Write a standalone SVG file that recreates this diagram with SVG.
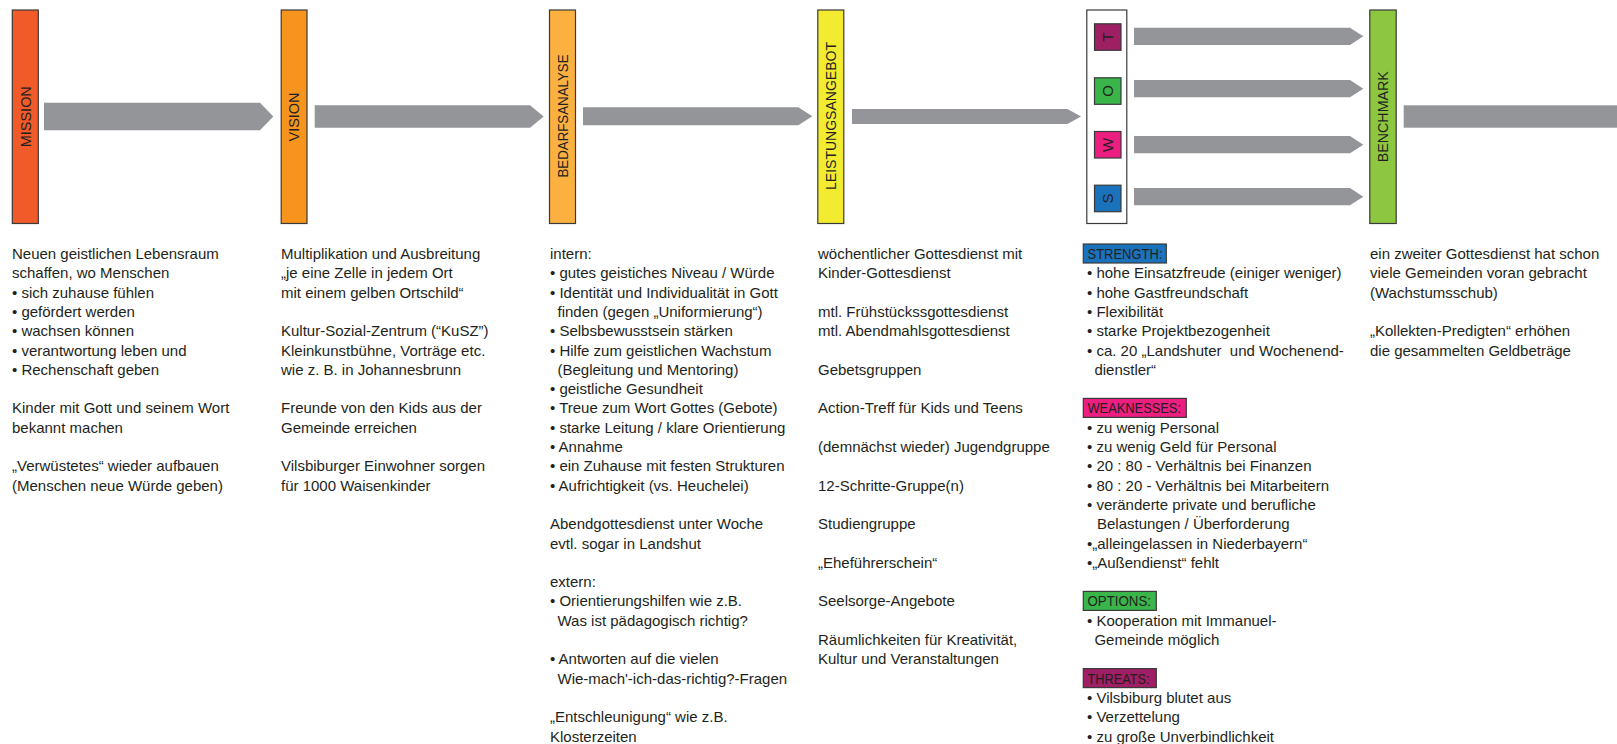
<svg xmlns="http://www.w3.org/2000/svg" width="1617" height="744" viewBox="0 0 1617 744">
<style>
.bar{stroke:#3a3a3a;stroke-width:1.2}
.arr{fill:#939598}
.lbl{font-family:"Liberation Sans",Arial,sans-serif;font-size:15px;fill:#231f20;text-anchor:middle}
.t{font-family:"Liberation Sans",Arial,sans-serif;font-size:15px;fill:#231f20}
.box{stroke:#3a3a3a;stroke-width:1.2}
</style>
<rect width="1617" height="744" fill="#ffffff"/>
<g id="connectors">
<polygon class="arr" points="44,102.7 260,102.7 273.3,116.5 260,130.3 44,130.3"/>
<polygon class="arr" points="314.7,105.3 530,105.3 543.7,116.5 530,127.7 314.7,127.7"/>
<polygon class="arr" points="583,107.3 798.3,107.3 812.3,116.3 798.3,125.3 583,125.3"/>
<polygon class="arr" points="852,109 1067.5,109 1081,116.5 1067.5,124 852,124"/>
<polygon class="arr" points="1134,27.7 1350,27.7 1363.3,36.35 1350,45 1134,45"/>
<polygon class="arr" points="1134,80 1350,80 1363.3,88.65 1350,97.3 1134,97.3"/>
<polygon class="arr" points="1134,136 1350,136 1363.3,144.65 1350,153.3 1134,153.3"/>
<polygon class="arr" points="1134,188 1350,188 1363.3,196.65 1350,205.3 1134,205.3"/>
<rect class="arr" x="1403.7" y="105.3" width="214" height="22.4"/>
</g>
<g id="mission">
<rect class="bar" x="12.3" y="10" width="26" height="213.5" fill="#f15a29"/>
<text class="lbl" transform="translate(30.7,116.7) rotate(-90)" textLength="61" lengthAdjust="spacingAndGlyphs">MISSION</text>
<text class="t">
<tspan x="12" y="259">Neuen geistlichen Lebensraum</tspan>
<tspan x="12" y="278.3">schaffen, wo Menschen</tspan>
<tspan x="12" y="297.6">• sich zuhause fühlen</tspan>
<tspan x="12" y="316.9">• gefördert werden</tspan>
<tspan x="12" y="336.2">• wachsen können</tspan>
<tspan x="12" y="355.5">• verantwortung leben und</tspan>
<tspan x="12" y="374.8">• Rechenschaft geben</tspan>
<tspan x="12" y="413.4">Kinder mit Gott und seinem Wort</tspan>
<tspan x="12" y="432.7">bekannt machen</tspan>
<tspan x="12" y="471.3">„Verwüstetes“ wieder aufbauen</tspan>
<tspan x="12" y="490.6">(Menschen neue Würde geben)</tspan>
</text>
</g>
<g id="vision">
<rect class="bar" x="281.2" y="10" width="25.8" height="213.5" fill="#f7941d"/>
<text class="lbl" transform="translate(299.4,117) rotate(-90)" textLength="49" lengthAdjust="spacingAndGlyphs">VISION</text>
<text class="t">
<tspan x="281" y="259">Multiplikation und Ausbreitung</tspan>
<tspan x="281" y="278.3">„je eine Zelle in jedem Ort</tspan>
<tspan x="281" y="297.6">mit einem gelben Ortschild“</tspan>
<tspan x="281" y="336.2">Kultur-Sozial-Zentrum (“KuSZ”)</tspan>
<tspan x="281" y="355.5">Kleinkunstbühne, Vorträge etc.</tspan>
<tspan x="281" y="374.8">wie z. B. in Johannesbrunn</tspan>
<tspan x="281" y="413.4">Freunde von den Kids aus der</tspan>
<tspan x="281" y="432.7">Gemeinde erreichen</tspan>
<tspan x="281" y="471.3">Vilsbiburger Einwohner sorgen</tspan>
<tspan x="281" y="490.6">für 1000 Waisenkinder</tspan>
</text>
</g>
<g id="bedarfsanalyse">
<rect class="bar" x="549.5" y="10" width="26" height="213.5" fill="#fbb040"/>
<text class="lbl" transform="translate(567.9,116) rotate(-90)" textLength="123" lengthAdjust="spacingAndGlyphs">BEDARFSANALYSE</text>
<text class="t">
<tspan x="550" y="259">intern:</tspan>
<tspan x="550" y="278.3">• gutes geistiches Niveau / Würde</tspan>
<tspan x="550" y="297.6">• Identität und Individualität in Gott</tspan>
<tspan x="557.5" y="316.9">finden (gegen „Uniformierung“)</tspan>
<tspan x="550" y="336.2">• Selbsbewusstsein stärken</tspan>
<tspan x="550" y="355.5">• Hilfe zum geistlichen Wachstum</tspan>
<tspan x="557.5" y="374.8">(Begleitung und Mentoring)</tspan>
<tspan x="550" y="394.1">• geistliche Gesundheit</tspan>
<tspan x="550" y="413.4">• Treue zum Wort Gottes (Gebote)</tspan>
<tspan x="550" y="432.7">• starke Leitung / klare Orientierung</tspan>
<tspan x="550" y="452">• Annahme</tspan>
<tspan x="550" y="471.3">• ein Zuhause mit festen Strukturen</tspan>
<tspan x="550" y="490.6">• Aufrichtigkeit (vs. Heuchelei)</tspan>
<tspan x="550" y="529.2">Abendgottesdienst unter Woche</tspan>
<tspan x="550" y="548.5">evtl. sogar in Landshut</tspan>
<tspan x="550" y="587.1">extern:</tspan>
<tspan x="550" y="606.4">• Orientierungshilfen wie z.B.</tspan>
<tspan x="557.5" y="625.7">Was ist pädagogisch richtig?</tspan>
<tspan x="550" y="664.3">• Antworten auf die vielen</tspan>
<tspan x="557.5" y="683.6">Wie-mach'-ich-das-richtig?-Fragen</tspan>
<tspan x="550" y="722.2">„Entschleunigung“ wie z.B.</tspan>
<tspan x="550" y="741.5">Klosterzeiten</tspan>
</text>
</g>
<g id="leistungsangebot">
<rect class="bar" x="817.8" y="10" width="26" height="213.5" fill="#f2eb30"/>
<text class="lbl" transform="translate(836.2,116) rotate(-90)" textLength="148" lengthAdjust="spacingAndGlyphs">LEISTUNGSANGEBOT</text>
<text class="t">
<tspan x="818" y="259">wöchentlicher Gottesdienst mit</tspan>
<tspan x="818" y="278.3">Kinder-Gottesdienst</tspan>
<tspan x="818" y="316.9">mtl. Frühstückssgottesdienst</tspan>
<tspan x="818" y="336.2">mtl. Abendmahlsgottesdienst</tspan>
<tspan x="818" y="374.8">Gebetsgruppen</tspan>
<tspan x="818" y="413.4">Action-Treff für Kids und Teens</tspan>
<tspan x="818" y="452">(demnächst wieder) Jugendgruppe</tspan>
<tspan x="818" y="490.6">12-Schritte-Gruppe(n)</tspan>
<tspan x="818" y="529.2">Studiengruppe</tspan>
<tspan x="818" y="567.8">„Eheführerschein“</tspan>
<tspan x="818" y="606.4">Seelsorge-Angebote</tspan>
<tspan x="818" y="645">Räumlichkeiten für Kreativität,</tspan>
<tspan x="818" y="664.3">Kultur und Veranstaltungen</tspan>
</text>
</g>
<g id="swot">
<rect class="bar" x="1086.8" y="10" width="40" height="213.5" fill="#ffffff"/>
<rect class="bar" x="1094.5" y="23.8" width="26.5" height="26.5" fill="#9e1f63"/>
<rect class="bar" x="1094.5" y="77.8" width="26.5" height="26.5" fill="#39b54a"/>
<rect class="bar" x="1094.5" y="131.5" width="26.5" height="26.5" fill="#ec1e7f"/>
<rect class="bar" x="1094.5" y="185.2" width="26.5" height="26.5" fill="#1b72bc"/>
<text class="lbl" transform="translate(1113.1,37) rotate(-90)">T</text>
<text class="lbl" transform="translate(1113.1,91) rotate(-90)">O</text>
<text class="lbl" transform="translate(1113.1,144.8) rotate(-90)">W</text>
<text class="lbl" transform="translate(1113.1,198.5) rotate(-90)">S</text>
<rect class="box" x="1083.3" y="244" width="83" height="19" fill="#1b72bc"/>
<text class="t" x="1087.5" y="259" textLength="75" lengthAdjust="spacingAndGlyphs">STRENGTH:</text>
<rect class="box" x="1083.3" y="398.4" width="103" height="19" fill="#ec1e7f"/>
<text class="t" x="1087.5" y="413.4" textLength="93.5" lengthAdjust="spacingAndGlyphs">WEAKNESSES:</text>
<rect class="box" x="1083.3" y="591.4" width="73" height="19" fill="#39b54a"/>
<text class="t" x="1087.5" y="606.4" textLength="63.5" lengthAdjust="spacingAndGlyphs">OPTIONS:</text>
<rect class="box" x="1083.3" y="668.6" width="73" height="19" fill="#9e1f63"/>
<text class="t" x="1087.5" y="683.6" textLength="62" lengthAdjust="spacingAndGlyphs">THREATS:</text>
<text class="t">
<tspan x="1087" y="278.3">• hohe Einsatzfreude (einiger weniger)</tspan>
<tspan x="1087" y="297.6">• hohe Gastfreundschaft</tspan>
<tspan x="1087" y="316.9">• Flexibilität</tspan>
<tspan x="1087" y="336.2">• starke Projektbezogenheit</tspan>
<tspan x="1087" y="355.5">• ca. 20 „Landshuter&#160; und Wochenend-</tspan>
<tspan x="1094.4" y="374.8">dienstler“</tspan>
<tspan x="1087" y="432.7">• zu wenig Personal</tspan>
<tspan x="1087" y="452">• zu wenig Geld für Personal</tspan>
<tspan x="1087" y="471.3">• 20 : 80 - Verhältnis bei Finanzen</tspan>
<tspan x="1087" y="490.6">• 80 : 20 - Verhältnis bei Mitarbeitern</tspan>
<tspan x="1087" y="509.9">• veränderte private und berufliche</tspan>
<tspan x="1097" y="529.2">Belastungen / Überforderung</tspan>
<tspan x="1087" y="548.5">•„alleingelassen in Niederbayern“</tspan>
<tspan x="1087" y="567.8">•„Außendienst“ fehlt</tspan>
<tspan x="1087" y="625.7">• Kooperation mit Immanuel-</tspan>
<tspan x="1094.4" y="645">Gemeinde möglich</tspan>
<tspan x="1087" y="702.9">• Vilsbiburg blutet aus</tspan>
<tspan x="1087" y="722.2">• Verzettelung</tspan>
<tspan x="1087" y="741.5">• zu große Unverbindlichkeit</tspan>
</text>
</g>
<g id="benchmark">
<rect class="bar" x="1369.8" y="10" width="26.4" height="213.5" fill="#8dc63f"/>
<text class="lbl" transform="translate(1388.4,116.7) rotate(-90)" textLength="91" lengthAdjust="spacingAndGlyphs">BENCHMARK</text>
<text class="t">
<tspan x="1370" y="259">ein zweiter Gottesdienst hat schon</tspan>
<tspan x="1370" y="278.3">viele Gemeinden voran gebracht</tspan>
<tspan x="1370" y="297.6">(Wachstumsschub)</tspan>
<tspan x="1370" y="336.2">„Kollekten-Predigten“ erhöhen</tspan>
<tspan x="1370" y="355.5">die gesammelten Geldbeträge</tspan>
</text>
</g>
</svg>
